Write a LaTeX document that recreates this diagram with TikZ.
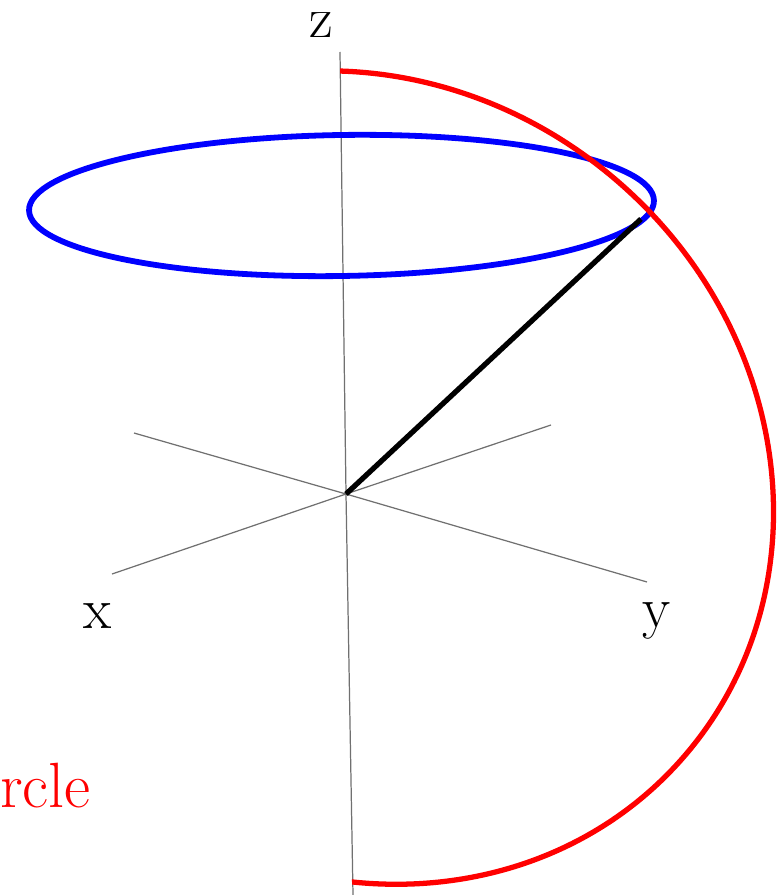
\documentclass[tikz,border=0pt]{standalone}
\usepackage{tikz}
\usetikzlibrary{calc}
\definecolor{axisgray}{HTML}{707070}

\begin{document}
\begin{tikzpicture}[x=0.02cm,y=-0.02cm,
  axis/.style={draw=axisgray,line width=0.7pt},
  curve/.style={line width=3pt,line cap=round},
  lbl/.style={font=\fontsize{33}{33}\selectfont,inner sep=0pt,anchor=base}]
\useasboundingbox (0,0) rectangle (777,895);
% axes
\coordinate (o) at (346,494);
\coordinate (xa) at (112,574);
\coordinate (xb) at (551,425);
\coordinate (ya) at (134,433);
\coordinate (yb) at (647,582);
\coordinate (za) at (340,52);
\coordinate (zb) at (353,895);
\draw[axis] (xa) -- (o) -- (xb);
\draw[axis] (ya) -- (o) -- (yb);
\draw[axis] (za) -- (o) -- (zb);
\node[lbl] (xl) at (98,628) {x};
\node[lbl] (yl) at (657,627) {y};
\node[lbl] (zl) at (321,38) {z};
% latitude circle
\coordinate (c) at (341.5,205.5);
\draw[curve,blue,line width=3.3pt,rotate around={0.9:(c)}] (c) ellipse [x radius=312.5,y radius=70.5];
% radius
\coordinate (p) at (641,219);
\draw[curve,black,line cap=butt] (o) -- (p);
% great circle, right half only
\coordinate (gctop) at (340,71);
\coordinate (gcbot) at (352,882);
\coordinate (gcc) at (361.7,477.6);
\begin{scope}
\clip (gctop) -- (gcbot) -- (352,960) -- (860,960) -- (860,-60) -- (340,-60) -- cycle;
\draw[curve,red,rotate around={-40.8:(gcc)}] (gcc) ellipse [x radius=426.3,y radius=391.5];
\end{scope}
\node[font=\fontsize{36.4}{36.4}\selectfont,text=red,inner sep=0pt,anchor=base east] (gc) at (91,807) {rcle};
\end{tikzpicture}
\end{document}
